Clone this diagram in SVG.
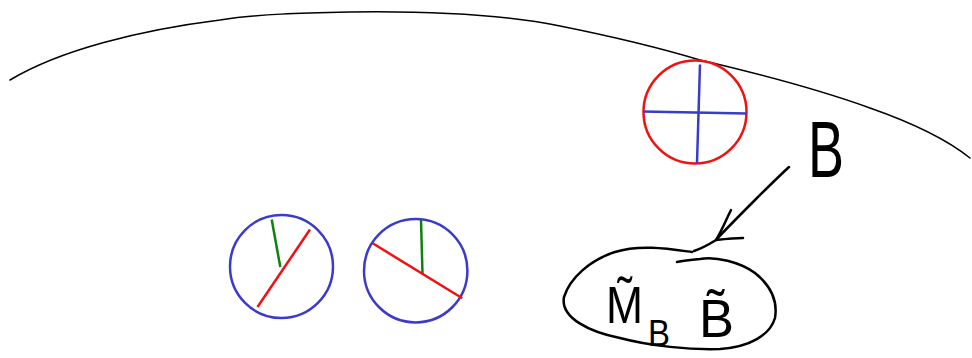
<svg xmlns="http://www.w3.org/2000/svg" width="972" height="358" viewBox="0 0 972 358">
<style>
.ink{fill:none;stroke:#000;stroke-linecap:round;stroke-linejoin:round}
.blue{fill:none;stroke:#3a3acc;stroke-width:2.5}
.red{fill:none;stroke:#f21010;stroke-width:2.5}
.green{fill:none;stroke:#108010;stroke-width:2.5}
.hand{font-family:"Liberation Sans","DejaVu Sans",sans-serif;fill:#000}
</style>
<rect width="972" height="358" fill="#fff"/>
<g id="boundary">
<path class="ink" stroke-width="1.5" d="M10,80 C60,50 140,30 220,20 C260,14 300,13 350,12 C420,11 500,14 560,26 C610,36 660,48 700,60 C760,74 820,90 870,108 C910,122 945,138 970,158"/>
</g>
<g id="red-circle">
<circle class="red" cx="695" cy="112" r="51.5"/>
<line class="blue" x1="700" y1="64.5" x2="697" y2="163"/>
<line class="blue" x1="643" y1="111.5" x2="746.5" y2="113.5"/>
</g>
<g id="circle-left">
<circle class="blue" cx="281.5" cy="266.5" r="51.5"/>
<line class="green" x1="271.7" y1="219.5" x2="280.3" y2="267"/>
<line class="red" x1="310" y1="229.5" x2="257.5" y2="307"/>
</g>
<g id="circle-right">
<circle class="blue" cx="415.7" cy="270.7" r="51.7"/>
<line class="green" x1="421" y1="220" x2="422.5" y2="274"/>
<line class="red" x1="372.7" y1="243.3" x2="462.3" y2="298.3"/>
</g>
<g id="label-B">
<text class="hand" x="808" y="177" font-size="80" textLength="36" lengthAdjust="spacingAndGlyphs">B</text>
</g>
<g id="blob">
<path class="ink" stroke-width="2.5" d="M692,252 C670,249 640,244 615,252 C590,260 570,278 564,297 C560,318 590,332 620,338 C650,346 690,350 720,349 C750,347 770,335 775,318 C778,300 770,285 755,273 C740,262 715,256 700,259 C690,260 682,261 677,262"/>
<text class="hand" x="606" y="323" font-size="52" textLength="37" lengthAdjust="spacingAndGlyphs">M̃</text>
<text class="hand" x="648" y="346" font-size="36" textLength="22" lengthAdjust="spacingAndGlyphs">B</text>
<text class="hand" x="699" y="337" font-size="54" textLength="35" lengthAdjust="spacingAndGlyphs">B̃</text>
</g>
<g id="connectors">
<path class="ink" stroke-width="2.5" d="M789,167 C775,180 765,190 755,200 C740,215 725,230 716,240 C708,245 700,249 694,251"/>
<path class="ink" stroke-width="2.5" d="M731,210 C726,220 721,232 716,240 C725,239 735,238 743,238"/>
</g>
</svg>
